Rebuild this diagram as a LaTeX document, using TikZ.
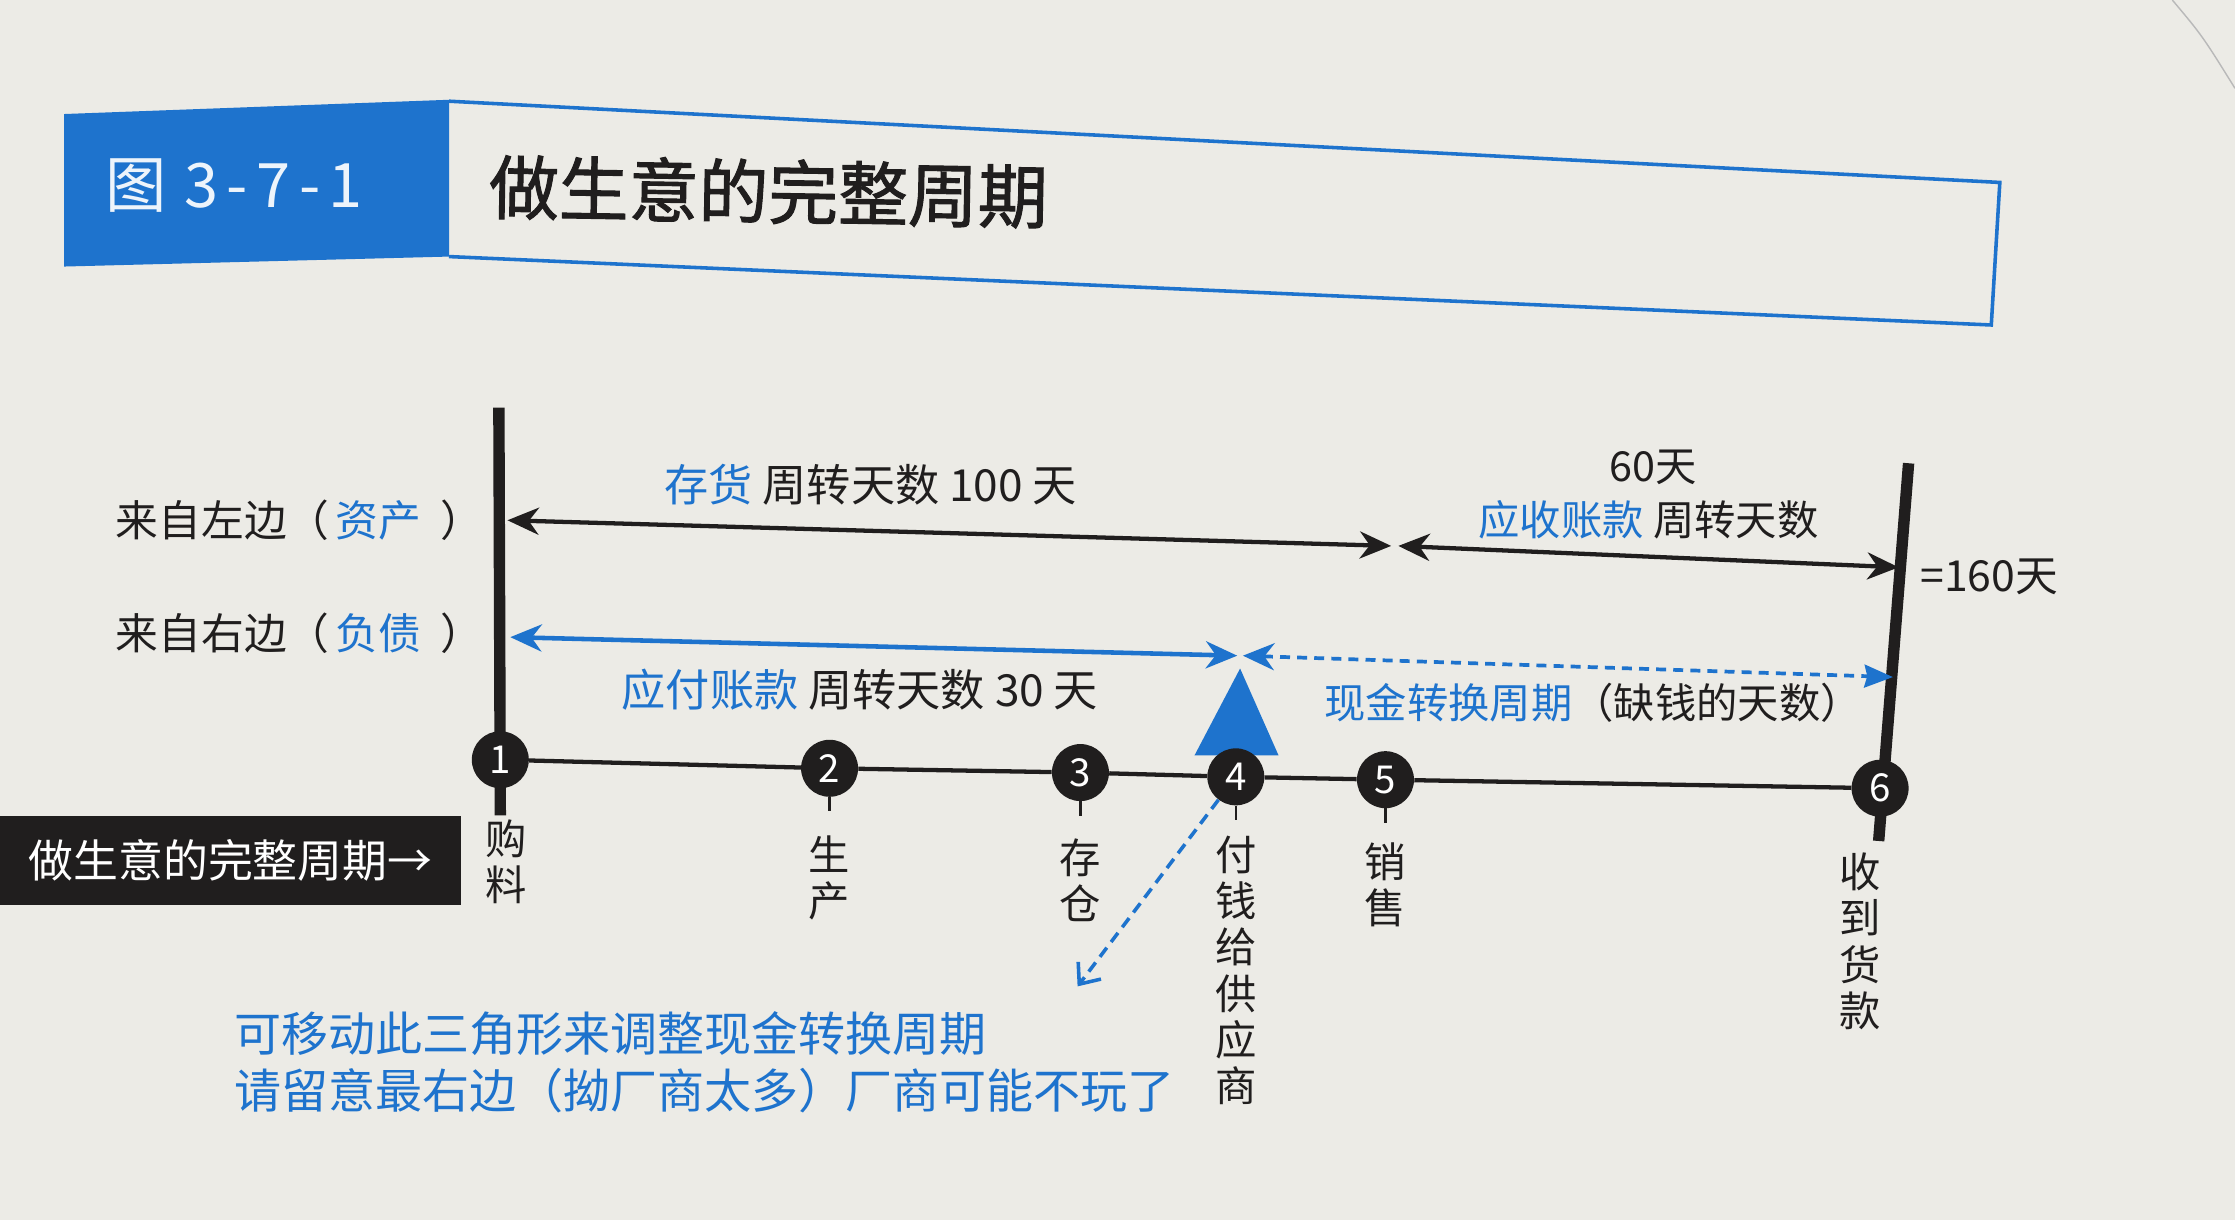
\documentclass[tikz,border=0pt]{standalone}
\usepackage{fontspec}
\setmainfont{Noto Sans CJK SC}
\newfontfamily\titlefont{Noto Sans CJK SC}[FakeBold=1.4]
\usetikzlibrary{arrows.meta}
\definecolor{myblue}{RGB}{30,115,205}
\definecolor{ink}{RGB}{32,30,30}
\definecolor{paper}{RGB}{236,235,230}
\begin{document}
\begin{tikzpicture}[x=1pt,y=-1pt,
  txt/.style={inner sep=0pt, text=ink, font=\fontsize{31}{31}\selectfont},
  vlab/.style={inner sep=0pt, text=ink, align=center, anchor=north, font=\fontsize{29}{32.5}\selectfont},
  circ/.style={circle, fill=ink, minimum size=40pt, inner sep=0pt, text=white, font=\fontsize{27}{27}\selectfont},
  dbl/.style={{Stealth[length=22pt,width=19pt,inset=7pt]}-{Stealth[length=22pt,width=19pt,inset=7pt]}},
  blk/.style={ink, line width=3pt},
  blu/.style={myblue, line width=3.2pt},
  bar/.style={ink, line width=8pt},
  tick/.style={ink, line width=1.6pt}]
\fill[paper] (0,0) rectangle (1568,856);
\useasboundingbox (0,0) rectangle (1568,856);
\draw[gray!55, line width=1pt] (1524,0) .. controls (1545,25) .. (1568,62);

% title
\fill[myblue] (45,80) -- (315,70) -- (315,180) -- (45,187) -- cycle;
\draw[myblue, line width=2.5pt] (315,71) -- (1403,128) -- (1397,228) -- (315,180);
\node[inner sep=0pt, text=white!92!myblue, font=\fontsize{43}{43}\selectfont, anchor=west] (fig) at (74,130) {图\kern12pt 3\kern6pt-\kern6pt7\kern6pt-\kern6pt1};
\node[inner sep=0pt, text=ink, font=\fontsize{49}{49}\titlefont, anchor=west, rotate=-1] (title) at (343,131) {做生意的完整周期};

% bars
\coordinate (lbT) at (350,286); \coordinate (lbB) at (351,572);
\coordinate (rbT) at (1339,325); \coordinate (rbB) at (1318,590);
\draw[bar] (lbT) -- (lbB);
\draw[bar] (rbT) -- (rbB);

% left labels
\node[txt, anchor=west, font=\fontsize{30}{30}\selectfont] (fromL) at (81,365) {来自左边（\kern4pt{\color{myblue}资产}\kern14pt）};
\node[txt, anchor=west, font=\fontsize{30}{30}\selectfont] (fromR) at (81,444) {来自右边（\kern4pt{\color{myblue}负债}\kern14pt）};

% arrows
\coordinate (invL) at (356,365); \coordinate (invR) at (976,383);
\coordinate (arL) at (981,383); \coordinate (arR) at (1332,398);
\coordinate (apL) at (358,447); \coordinate (apR) at (868,460);
\coordinate (ccL) at (872,460); \coordinate (ccR) at (1328,475);
\draw[blk, dbl] (invL) -- (invR);
\draw[blk, dbl] (arL) -- (arR);
\draw[blu, dbl] (apL) -- (apR);
\draw[myblue, line width=2.6pt, dash pattern=on 7pt off 5pt,
      {Stealth[length=22pt,width=19pt,inset=7pt]}-{Stealth[length=20pt,width=16pt,inset=2pt]}] (ccL) -- (ccR);

% arrow labels
\node[txt, anchor=west] (invT) at (466,340) {{\color{myblue}存货} 周转天数 100 天};
\node[txt, anchor=west] (apT) at (436,484) {{\color{myblue}应付账款} 周转天数 30 天};
\node[txt, font=\fontsize{29}{29}\selectfont] (d60) at (1160,328) {60天};
\node[txt, anchor=west, font=\fontsize{29}{29}\selectfont] (arT) at (1037,365) {{\color{myblue}应收账款} 周转天数};
\node[txt, anchor=west, font=\fontsize{30}{30}\selectfont] (tot) at (1347,405) {=160天};
\node[txt, anchor=west, font=\fontsize{29}{29}\selectfont] (ccT) at (929,493) {{\color{myblue}现金转换周期}（缺钱的天数）};

% triangle
\fill[myblue] (870,469) -- (897,530) -- (838,530) -- cycle;

% timeline
\node[circ] (c1) at (351,533) {1};
\node[circ] (c2) at (582,539) {2};
\node[circ] (c3) at (758,542) {3};
\node[circ] (c4) at (867,545) {4};
\node[circ] (c5) at (972,547) {5};
\node[circ] (c6) at (1319,553) {6};
\draw[blk] (c1) -- (c2) -- (c3) -- (c4) -- (c5) -- (c6);
\foreach \c in {c2,c3,c4,c5} \draw[tick] (\c.south) -- ++(0,10);

% labels under circles
\node[vlab] (l1) at (355,575) {购\\料};
\node[vlab] (l2) at (582,586) {生\\产};
\node[vlab] (l3) at (758,588) {存\\仓};
\node[vlab] (l4) at (867,586) {付\\钱\\给\\供\\应\\商};
\node[vlab] (l5) at (972,591) {销\\售};
\node[vlab] (l6) at (1305,598) {收\\到\\货\\款};

% black label box
\node[fill=ink, text=white, inner sep=0pt, minimum width=323pt, minimum height=63pt, anchor=north west,
      font=\fontsize{31.5}{31.5}\selectfont] (cyc) at (0,572) {做生意的完整周期→};

% dashed pointer and note
\coordinate (ptr) at (756,692);
\draw[myblue, line width=2.5pt, dash pattern=on 8pt off 5pt, -{Straight Barb[length=12pt,width=20pt]}] (c4) -- (ptr);
\node[txt, anchor=west, text=myblue, font=\fontsize{33}{33}\selectfont] (n1) at (164,725) {可移动此三角形来调整现金转换周期};
\node[txt, anchor=west, text=myblue, font=\fontsize{33}{33}\selectfont] (n2) at (164,765) {请留意最右边（拗厂商太多）厂商可能不玩了};
\end{tikzpicture}
\end{document}
